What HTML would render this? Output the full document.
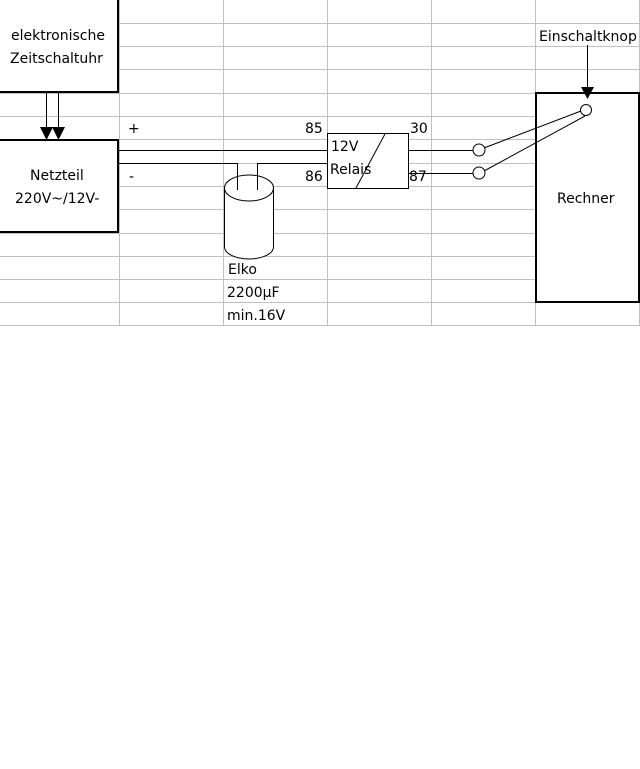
<!DOCTYPE html>
<html><head><style>
body{margin:0;width:640px;height:764px;background:#fff;overflow:hidden}
svg text{font-family:"DejaVu Sans","Liberation Sans",sans-serif;font-size:14px;fill:#000}
</style></head><body>
<svg width="640" height="764" xmlns="http://www.w3.org/2000/svg">
<g stroke="#c0c0c0" stroke-width="1">
<line x1="0" y1="23.5" x2="640" y2="23.5"/><line x1="0" y1="46.5" x2="640" y2="46.5"/>
<line x1="0" y1="69.5" x2="640" y2="69.5"/><line x1="0" y1="93.5" x2="640" y2="93.5"/>
<line x1="0" y1="116.5" x2="640" y2="116.5"/><line x1="0" y1="139.5" x2="640" y2="139.5"/>
<line x1="0" y1="163.5" x2="640" y2="163.5"/><line x1="0" y1="186.5" x2="640" y2="186.5"/>
<line x1="0" y1="209.5" x2="640" y2="209.5"/><line x1="0" y1="233.5" x2="640" y2="233.5"/>
<line x1="0" y1="256.5" x2="640" y2="256.5"/><line x1="0" y1="279.5" x2="640" y2="279.5"/>
<line x1="0" y1="302.5" x2="640" y2="302.5"/><line x1="0" y1="325.5" x2="640" y2="325.5"/>
<line x1="119.5" y1="0" x2="119.5" y2="326"/><line x1="223.5" y1="0" x2="223.5" y2="326"/>
<line x1="327.5" y1="0" x2="327.5" y2="326"/><line x1="431.5" y1="0" x2="431.5" y2="326"/>
<line x1="535.5" y1="0" x2="535.5" y2="326"/><line x1="639.5" y1="0" x2="639.5" y2="326"/>
</g>
<g fill="#fff" stroke="#000" stroke-width="2">
<rect x="-2" y="-2" width="120" height="94"/>
<rect x="-2" y="140" width="120" height="92"/>
<rect x="536" y="93" width="103" height="209"/>
</g>
<g stroke="#000" stroke-width="1" fill="none">
<line x1="46.5" y1="93" x2="46.5" y2="128"/><line x1="58.5" y1="93" x2="58.5" y2="128"/>
<line x1="119" y1="150.5" x2="327" y2="150.5"/>
<polyline points="119,163.5 237.5,163.5 237.5,190"/>
<polyline points="257.5,190 257.5,163.5 327,163.5"/>
<path d="M224.5,188 L224.5,247 A24.5,12 0 0 0 273.5,247 L273.5,188" fill="#fff"/>
<ellipse cx="249" cy="188" rx="24.5" ry="13" fill="#fff"/>
<line x1="237.5" y1="163.5" x2="237.5" y2="190"/><line x1="257.5" y1="163.5" x2="257.5" y2="190"/>
<rect x="327.5" y="133.5" width="81" height="55" fill="#fff"/>
<line x1="385" y1="134" x2="356" y2="188"/>
<line x1="408" y1="150.5" x2="473" y2="150.5"/>
<line x1="408" y1="173.5" x2="473" y2="173.5"/>
<line x1="484" y1="148" x2="581" y2="111"/>
<line x1="484" y1="171" x2="585" y2="116"/>
<circle cx="479" cy="150" r="6" fill="#fff"/><circle cx="479" cy="173" r="6" fill="#fff"/>
<circle cx="586" cy="110" r="5.5" fill="#fff"/>
<line x1="587.5" y1="45" x2="587.5" y2="90"/>
</g>
<g fill="#000">
<polygon points="40,127 53,127 46.5,140"/><polygon points="52,127 65,127 58.5,140"/>
<polygon points="581,87 594,87 587.5,99"/>
</g>
<text x="11" y="40">elektronische</text>
<text x="10" y="63">Zeitschaltuhr</text>
<text x="30" y="180">Netzteil</text>
<text x="15" y="203">220V~/12V-</text>
<text x="128" y="133">+</text>
<text x="129" y="181">-</text>
<text x="305" y="133">85</text>
<text x="305" y="181">86</text>
<text x="410" y="133">30</text>
<text x="409" y="181">87</text>
<text x="331" y="151">12V</text>
<text x="330" y="174">Relais</text>
<text x="228" y="274">Elko</text>
<text x="227" y="297">2200µF</text>
<text x="227" y="320">min.16V</text>
<text x="539" y="41">Einschaltknop</text>
<text x="557" y="203">Rechner</text>
</svg>
</body></html>
